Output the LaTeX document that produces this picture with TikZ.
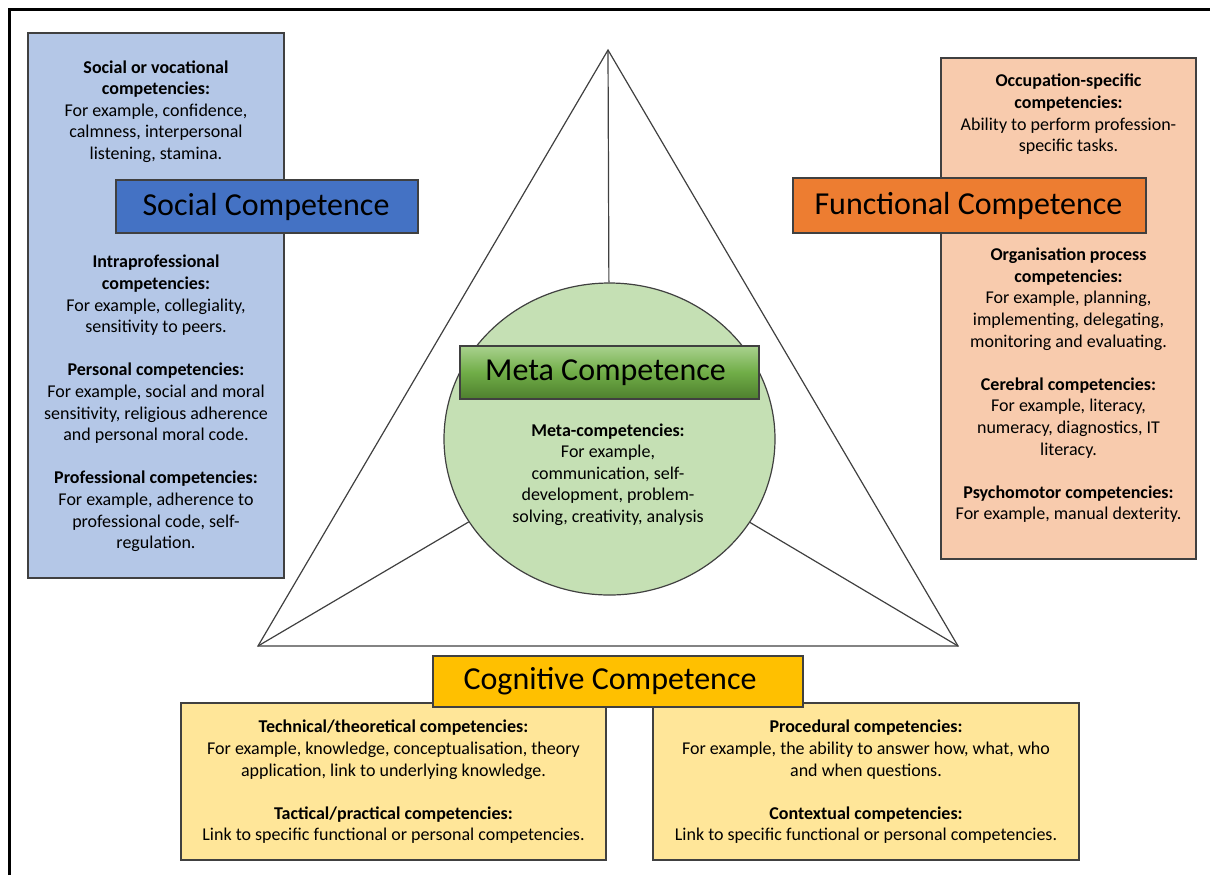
\documentclass[tikz,border=0pt]{standalone}
\usepackage{fontspec}
\setmainfont{Carlito}
\usetikzlibrary{positioning,shapes.geometric}
\definecolor{socpale}{HTML}{B4C7E7}
\definecolor{socdeep}{HTML}{4472C4}
\definecolor{funcpale}{HTML}{F8CBAD}
\definecolor{funcdeep}{HTML}{ED7D31}
\definecolor{cogpale}{HTML}{FFE699}
\definecolor{cogdeep}{HTML}{FFC000}
\definecolor{metapale}{HTML}{C5E0B4}
\definecolor{metatop}{HTML}{A9D18E}
\definecolor{metamid}{HTML}{70AD47}
\definecolor{metabot}{HTML}{4E7F2E}
\definecolor{edgegray}{HTML}{404040}
\tikzset{panel/.style={
    draw=edgegray,
    line width=0.6pt,
    inner sep=0pt
  },
  headbox/.style={panel,
    font=\fontsize{16}{19}\selectfont
  },
  blurb/.style={
    align=center,
    inner sep=0pt,
    font=\fontsize{9}{10.8}\selectfont
  },
  spoke/.style={draw=edgegray, line width=0.6pt}
}
\newcommand{\gap}{\\[10.8pt]}

\begin{document}
\begin{tikzpicture}[x=0.5pt,y=-0.5pt]
    \useasboundingbox (0,0) rectangle (1210,875);
    \draw[line width=1.5pt] (9,875) -- (9,9) -- (1210,9);

    % triangle and the meta circle
    \coordinate (apex) at (608,50);
    \coordinate (left) at (258,646);
    \coordinate (right) at (958,646);
    \draw[spoke] (apex) -- (left) -- (right) -- cycle;
    \node[ellipse, draw=edgegray, fill=metapale, line width=0.6pt,
          minimum width=165.5pt, minimum height=156pt, inner sep=0pt] (meta) at (609.5,439) {};
    \draw[spoke] (apex) -- (meta);
    \draw[spoke] (left) -- (meta);
    \draw[spoke] (right) -- (meta);
    \node[headbox, top color=metatop, bottom color=metabot, middle color=metamid,
          minimum width=149.5pt, minimum height=26.5pt] (metahead) at (609.5,372.5) {Meta Competence\kern4pt};
    \node[blurb] (metatext) at (608,474.5) {\textbf{Meta-competencies:}\\For example,\\communication, self-\\development, problem-\\solving, creativity, analysis};

    % social
    \node[panel, fill=socpale, minimum width=128pt, minimum height=272.5pt] (socbox) at (156,305.5) {};
    \node[headbox, fill=socdeep, minimum width=151pt, minimum height=26.5pt] (sochead) at (267,206.5) {Social Competence\kern1pt};
    \node[blurb] (soctop) at (156,111.5) {\textbf{Social or vocational}\\\textbf{competencies:}\\For example, confidence,\\calmness, interpersonal\\listening, stamina.};
    \node[blurb] (socbottom) at (156,403.5) {\textbf{Intraprofessional}\\\textbf{competencies:}\\For example, collegiality,\\sensitivity to peers.\gap
        \textbf{Personal competencies:}\\For example, social and moral\\sensitivity, religious adherence\\and personal moral code.\gap
        \textbf{Professional competencies:}\\For example, adherence to\\professional code, self-\\regulation.};

    % functional
    \node[panel, fill=funcpale, minimum width=127.5pt, minimum height=250.5pt] (funcbox) at (1068.5,308.5) {};
    \node[headbox, fill=funcdeep, minimum width=176.5pt, minimum height=27.5pt] (funchead) at (969.5,205.5) {Functional Competence\kern1pt};
    \node[blurb] (functop) at (1068.5,114.5) {\textbf{Occupation-specific}\\\textbf{competencies:}\\Ability to perform profession-\\specific tasks.};
    \node[blurb] (funcbottom) at (1068.5,385.5) {\textbf{Organisation process}\\\textbf{competencies:}\\For example, planning,\\implementing, delegating,\\monitoring and evaluating.\gap
        \textbf{Cerebral competencies:}\\For example, literacy,\\numeracy, diagnostics, IT\\literacy.\gap
        \textbf{Psychomotor competencies:}\\For example, manual dexterity.};

    % cognitive
    \node[panel, fill=cogpale, minimum width=212.5pt, minimum height=78.5pt] (cogleft) at (393.5,781.5) {};
    \node[panel, fill=cogpale, minimum width=213pt, minimum height=78.5pt] (cogright) at (866,781.5) {};
    \node[headbox, fill=cogdeep, minimum width=185pt, minimum height=25.5pt] (coghead) at (618,681.5) {Cognitive Competence\kern8pt};
    \node[blurb] (coglefttext) at (393.5,782) {\textbf{Technical/theoretical competencies:}\\For example, knowledge, conceptualisation, theory\\application, link to underlying knowledge.\gap
        \textbf{Tactical/practical competencies:}\\Link to specific functional or personal competencies.};
    \node[blurb] (cogrighttext) at (866,782) {\textbf{Procedural competencies:}\\For example, the ability to answer how, what, who\\and when questions.\gap
        \textbf{Contextual competencies:}\\Link to specific functional or personal competencies.};
\end{tikzpicture}
\end{document}
